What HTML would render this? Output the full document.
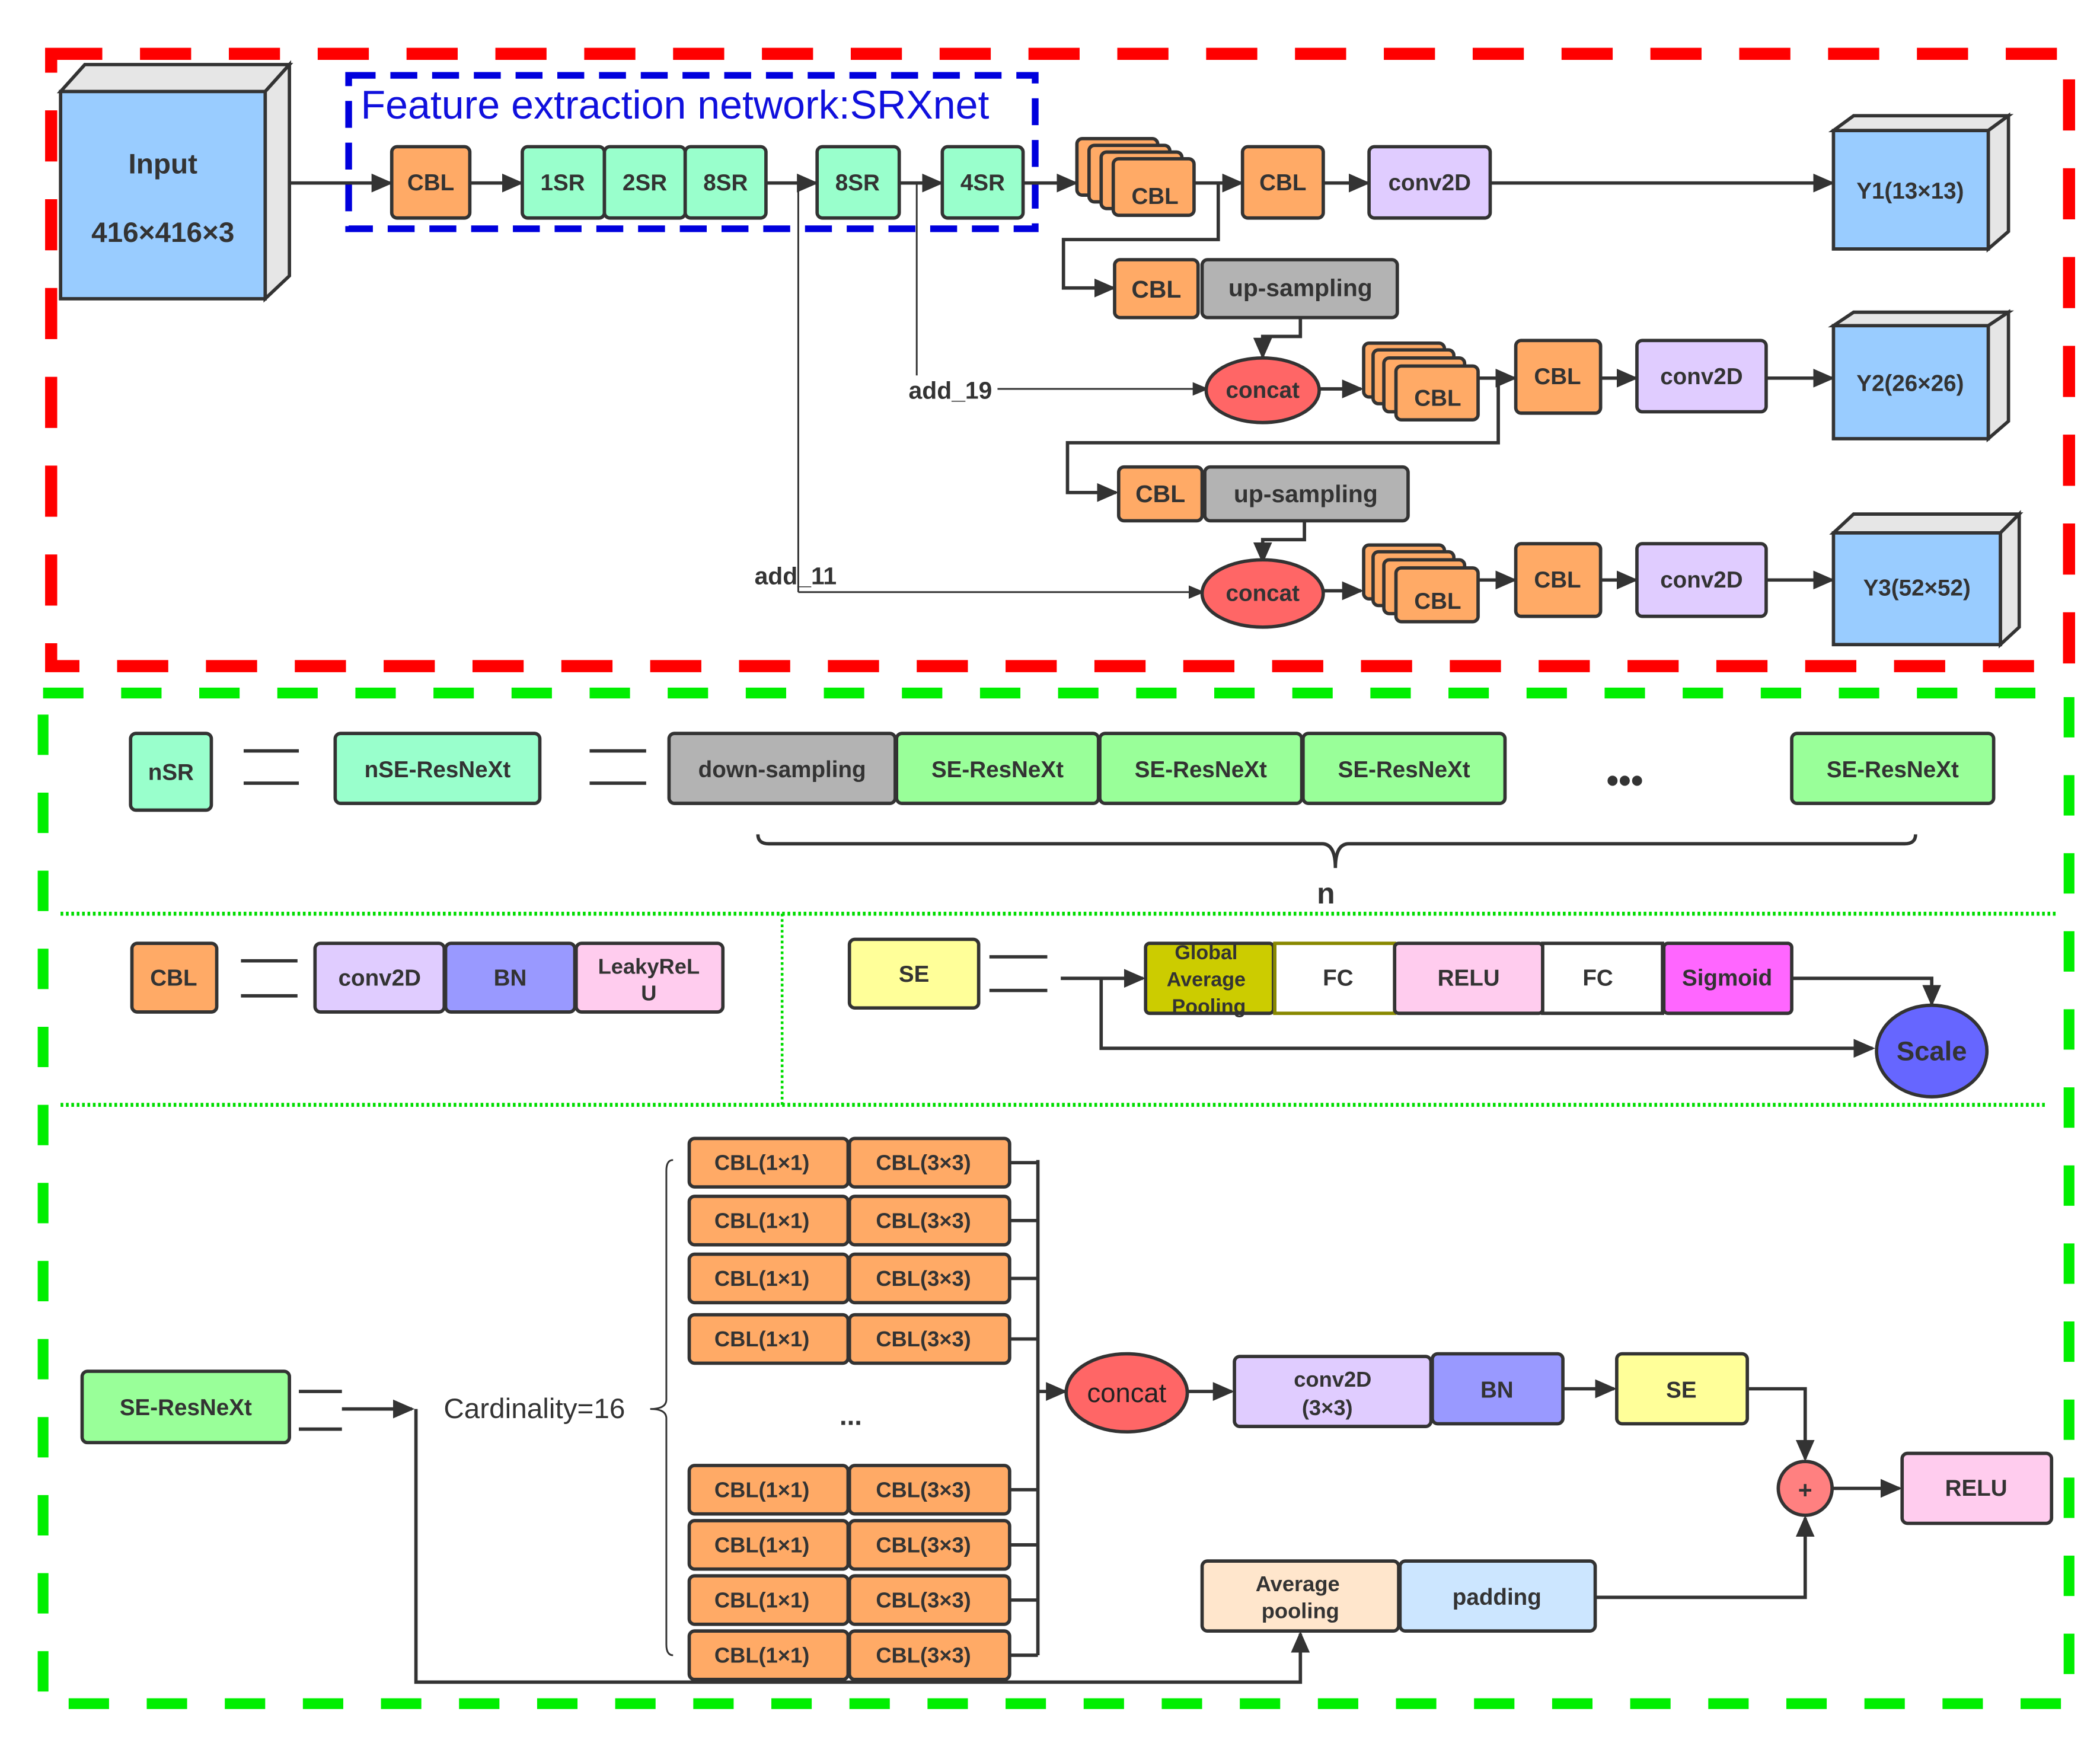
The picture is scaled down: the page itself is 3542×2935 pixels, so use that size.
<!DOCTYPE html>
<html><head><meta charset="utf-8"><style>
html,body{margin:0;padding:0;background:#fff}
svg{display:block}
text{font-family:"Liberation Sans",sans-serif;font-weight:bold;fill:#333;text-anchor:middle;dominant-baseline:central}
.b{stroke:#333;stroke-width:2.5}
.l{stroke:#333;stroke-width:2.5;fill:none}
.t{stroke:#333;stroke-width:1.3;fill:none}
</style></head><body>
<svg width="3542" height="2935" viewBox="0 0 1560 1293" preserveAspectRatio="none" xmlns="http://www.w3.org/2000/svg">
<defs>
<marker id="a" markerWidth="10" markerHeight="10" refX="9" refY="5" orient="auto" markerUnits="userSpaceOnUse"><path d="M0,0 L12,5 L0,10 z" fill="#333"/></marker>
<marker id="s" markerWidth="16" markerHeight="14" refX="14" refY="7" orient="auto" markerUnits="userSpaceOnUse"><path d="M0,0 L16,7 L0,14 z" fill="#333"/></marker>
</defs>
<!-- frames -->
<rect x="38" y="40" width="1499" height="455" fill="none" stroke="#ff0000" stroke-width="9" stroke-dasharray="38,28"/>
<rect x="32" y="515" width="1505" height="751" fill="none" stroke="#00ee00" stroke-width="8" stroke-dasharray="30,28"/>
<line x1="45" y1="679" x2="1528" y2="679" stroke="#00dd00" stroke-width="3" stroke-dasharray="2,2"/>
<line x1="45" y1="821" x2="1520" y2="821" stroke="#00dd00" stroke-width="3" stroke-dasharray="2,2"/>
<line x1="581" y1="679" x2="581" y2="821" stroke="#00dd00" stroke-width="2" stroke-dasharray="2,2"/>

<!-- Input cube -->
<polygon points="45,68 63,48 215,48 197,68" fill="#e6e6e6" class="b"/>
<polygon points="197,68 215,48 215,205 197,222" fill="#e6e6e6" class="b"/>
<rect x="45" y="68" width="152" height="154" fill="#99ccff" class="b"/>
<text x="121" y="122" font-size="21">Input</text>
<text x="121" y="173" font-size="21">416×416×3</text>

<!-- blue box -->
<rect x="259" y="56" width="510" height="114" fill="none" stroke="#0000dd" stroke-width="5" stroke-dasharray="20,11"/>
<text x="268" y="78" font-size="30" style="text-anchor:start;fill:#1010dd;font-weight:normal">Feature extraction network:SRXnet</text>

<!-- main row -->
<line x1="215" y1="136" x2="290" y2="136" class="l" marker-end="url(#s)"/>
<rect x="291" y="109" width="58" height="53" rx="4" fill="#ffaa66" class="b"/><text x="320" y="136" font-size="17">CBL</text>
<line x1="349" y1="136" x2="387" y2="136" class="l" marker-end="url(#s)"/>
<rect x="388" y="109" width="61" height="53" rx="4" fill="#99ffcc" class="b"/><text x="418" y="136" font-size="17">1SR</text>
<rect x="449" y="109" width="60" height="53" rx="4" fill="#99ffcc" class="b"/><text x="479" y="136" font-size="17">2SR</text>
<rect x="509" y="109" width="60" height="53" rx="4" fill="#99ffcc" class="b"/><text x="539" y="136" font-size="17">8SR</text>
<line x1="569" y1="136" x2="606" y2="136" class="l" marker-end="url(#s)"/>
<rect x="607" y="109" width="61" height="53" rx="4" fill="#99ffcc" class="b"/><text x="637" y="136" font-size="17">8SR</text>
<line x1="668" y1="136" x2="699" y2="136" class="l" marker-end="url(#s)"/>
<rect x="700" y="109" width="60" height="53" rx="4" fill="#99ffcc" class="b"/><text x="730" y="136" font-size="17">4SR</text>
<line x1="760" y1="136" x2="799" y2="136" class="l" marker-end="url(#s)"/>
<!-- stacked CBL 1 -->
<rect x="800" y="103" width="60" height="42" rx="4" fill="#ffaa66" class="b"/>
<rect x="809" y="108" width="60" height="42" rx="4" fill="#ffaa66" class="b"/>
<rect x="818" y="113" width="60" height="42" rx="4" fill="#ffaa66" class="b"/>
<rect x="827" y="118" width="60" height="42" rx="4" fill="#ffaa66" class="b"/><text x="858" y="146" font-size="17">CBL</text>
<line x1="887" y1="136" x2="922" y2="136" class="l" marker-end="url(#s)"/>
<rect x="923" y="109" width="60" height="53" rx="4" fill="#ffaa66" class="b"/><text x="953" y="136" font-size="17">CBL</text>
<line x1="983" y1="136" x2="1016" y2="136" class="l" marker-end="url(#s)"/>
<rect x="1017" y="109" width="90" height="53" rx="4" fill="#e0ccff" class="b"/><text x="1062" y="136" font-size="17">conv2D</text>
<line x1="1107" y1="136" x2="1361" y2="136" class="l" marker-end="url(#s)"/>
<polygon points="1362,97 1377,86 1492,86 1477,97" fill="#e6e6e6" class="b"/>
<polygon points="1477,97 1492,86 1492,172 1477,185" fill="#e6e6e6" class="b"/>
<rect x="1362" y="97" width="115" height="88" fill="#99ccff" class="b"/><text x="1419" y="142" font-size="17">Y1(13×13)</text>

<!-- branch 1 -->
<polyline points="905,136 905,178 790,178 790,214 827,214" class="l" marker-end="url(#s)"/>
<rect x="828" y="193" width="62" height="43" rx="4" fill="#ffaa66" class="b"/><text x="859" y="215" font-size="18">CBL</text>
<rect x="893" y="193" width="145" height="43" rx="4" fill="#b3b3b3" class="b"/><text x="966" y="214" font-size="18">up-sampling</text>
<polyline points="966,236 966,250 938,250 938,265" class="l" marker-end="url(#s)"/>
<line x1="681" y1="136" x2="681" y2="279" class="t"/>
<text x="706" y="290" font-size="18">add_19</text>
<line x1="741" y1="289" x2="895" y2="289" class="t" marker-end="url(#a)"/>
<ellipse cx="938" cy="290" rx="42" ry="24" fill="#ff6666" class="b"/><text x="938" y="290" font-size="17">concat</text>
<line x1="980" y1="289" x2="1011" y2="289" class="l" marker-end="url(#s)"/>
<rect x="1013" y="255" width="60" height="40" rx="4" fill="#ffaa66" class="b"/>
<rect x="1020" y="260" width="60" height="40" rx="4" fill="#ffaa66" class="b"/>
<rect x="1028" y="266" width="60" height="40" rx="4" fill="#ffaa66" class="b"/>
<rect x="1037" y="272" width="61" height="40" rx="4" fill="#ffaa66" class="b"/><text x="1068" y="296" font-size="17">CBL</text>
<line x1="1098" y1="281" x2="1125" y2="281" class="l" marker-end="url(#s)"/>
<rect x="1126" y="253" width="63" height="54" rx="4" fill="#ffaa66" class="b"/><text x="1157" y="280" font-size="17">CBL</text>
<line x1="1189" y1="281" x2="1215" y2="281" class="l" marker-end="url(#s)"/>
<rect x="1216" y="253" width="96" height="53" rx="4" fill="#e0ccff" class="b"/><text x="1264" y="280" font-size="17">conv2D</text>
<line x1="1312" y1="281" x2="1361" y2="281" class="l" marker-end="url(#s)"/>
<polygon points="1362,242 1377,232 1492,232 1477,242" fill="#e6e6e6" class="b"/>
<polygon points="1477,242 1492,232 1492,313 1477,326" fill="#e6e6e6" class="b"/>
<rect x="1362" y="242" width="115" height="84" fill="#99ccff" class="b"/><text x="1419" y="285" font-size="17">Y2(26×26)</text>

<!-- branch 2 -->
<polyline points="1113,281 1113,329 793,329 793,366 829,366" class="l" marker-end="url(#s)"/>
<rect x="831" y="347" width="62" height="40" rx="4" fill="#ffaa66" class="b"/><text x="862" y="367" font-size="18">CBL</text>
<rect x="895" y="347" width="151" height="40" rx="4" fill="#b3b3b3" class="b"/><text x="970" y="367" font-size="18">up-sampling</text>
<polyline points="969,387 969,401 938,401 938,417" class="l" marker-end="url(#s)"/>
<line x1="593" y1="136" x2="593" y2="440" class="t"/>
<text x="591" y="428" font-size="18">add_11</text>
<line x1="593" y1="440" x2="892" y2="440" class="t" marker-end="url(#a)"/>
<ellipse cx="938" cy="441" rx="45" ry="25" fill="#ff6666" class="b"/><text x="938" y="441" font-size="17">concat</text>
<line x1="983" y1="439" x2="1011" y2="439" class="l" marker-end="url(#s)"/>
<rect x="1013" y="405" width="60" height="40" rx="4" fill="#ffaa66" class="b"/>
<rect x="1020" y="410" width="60" height="40" rx="4" fill="#ffaa66" class="b"/>
<rect x="1028" y="416" width="60" height="40" rx="4" fill="#ffaa66" class="b"/>
<rect x="1037" y="422" width="61" height="40" rx="4" fill="#ffaa66" class="b"/><text x="1068" y="447" font-size="17">CBL</text>
<line x1="1098" y1="431" x2="1125" y2="431" class="l" marker-end="url(#s)"/>
<rect x="1126" y="404" width="63" height="54" rx="4" fill="#ffaa66" class="b"/><text x="1157" y="431" font-size="17">CBL</text>
<line x1="1189" y1="431" x2="1215" y2="431" class="l" marker-end="url(#s)"/>
<rect x="1216" y="404" width="96" height="54" rx="4" fill="#e0ccff" class="b"/><text x="1264" y="431" font-size="17">conv2D</text>
<line x1="1312" y1="431" x2="1361" y2="431" class="l" marker-end="url(#s)"/>
<polygon points="1362,396 1377,382 1500,382 1486,396" fill="#e6e6e6" class="b"/>
<polygon points="1486,396 1500,382 1500,466 1486,479" fill="#e6e6e6" class="b"/>
<rect x="1362" y="396" width="124" height="83" fill="#99ccff" class="b"/><text x="1424" y="437" font-size="17">Y3(52×52)</text>

<!-- nSR row -->
<rect x="97" y="545" width="60" height="57" rx="4" fill="#99ffcc" class="b"/><text x="127" y="574" font-size="17">nSR</text>
<line x1="181" y1="558" x2="222" y2="558" class="l"/><line x1="181" y1="582" x2="222" y2="582" class="l"/>
<rect x="249" y="545" width="152" height="52" rx="4" fill="#99ffcc" class="b"/><text x="325" y="572" font-size="17">nSE-ResNeXt</text>
<line x1="438" y1="558" x2="480" y2="558" class="l"/><line x1="438" y1="582" x2="480" y2="582" class="l"/>
<rect x="497" y="545" width="168" height="52" rx="4" fill="#b3b3b3" class="b"/><text x="581" y="572" font-size="17">down-sampling</text>
<rect x="666" y="545" width="150" height="52" rx="4" fill="#99ff99" class="b"/><text x="741" y="572" font-size="17">SE-ResNeXt</text>
<rect x="817" y="545" width="150" height="52" rx="4" fill="#99ff99" class="b"/><text x="892" y="572" font-size="17">SE-ResNeXt</text>
<rect x="968" y="545" width="150" height="52" rx="4" fill="#99ff99" class="b"/><text x="1043" y="572" font-size="17">SE-ResNeXt</text>
<text x="1207" y="580" font-size="26">•••</text>
<rect x="1331" y="545" width="150" height="52" rx="4" fill="#99ff99" class="b"/><text x="1406" y="572" font-size="17">SE-ResNeXt</text>
<path d="M563,620 Q563,627 571,627 L982,627 Q992,627 992,645 Q992,627 1002,627 L1415,627 Q1423,627 1423,620" class="l"/>
<text x="985" y="664" font-size="22">n</text>

<!-- CBL def -->
<rect x="98" y="701" width="63" height="51" rx="4" fill="#ffaa66" class="b"/><text x="129" y="727" font-size="17">CBL</text>
<line x1="179" y1="714" x2="221" y2="714" class="l"/><line x1="179" y1="740" x2="221" y2="740" class="l"/>
<rect x="234" y="701" width="96" height="51" rx="4" fill="#e0ccff" class="b"/><text x="282" y="727" font-size="17">conv2D</text>
<rect x="331" y="701" width="96" height="51" rx="4" fill="#9999ff" class="b"/><text x="379" y="727" font-size="17">BN</text>
<rect x="428" y="701" width="109" height="51" rx="4" fill="#ffccee" class="b"/><text x="482" y="718" font-size="16">LeakyReL</text><text x="482" y="738" font-size="16">U</text>

<!-- SE def -->
<rect x="631" y="698" width="96" height="51" rx="4" fill="#ffff99" class="b"/><text x="679" y="724" font-size="17">SE</text>
<line x1="735" y1="711" x2="778" y2="711" class="l"/><line x1="735" y1="736" x2="778" y2="736" class="l"/>
<line x1="788" y1="727" x2="849" y2="727" class="l" marker-end="url(#s)"/>
<polyline points="818,727 818,779 1391,779" class="l" marker-end="url(#s)"/>
<rect x="851" y="701" width="95" height="52" rx="3" fill="#cccc00" class="b"/>
<text x="896" y="708" font-size="15">Global</text><text x="896" y="728" font-size="15">Average</text><text x="898" y="748" font-size="15">Pooling</text>
<rect x="947" y="701" width="89" height="52" fill="#fff" stroke="#888800" stroke-width="2.5"/><text x="994" y="727" font-size="17">FC</text>
<rect x="1036" y="701" width="110" height="52" rx="3" fill="#ffccee" class="b"/><text x="1091" y="727" font-size="17">RELU</text>
<rect x="1146" y="701" width="89" height="52" fill="#fff" class="b"/><text x="1187" y="727" font-size="17">FC</text>
<rect x="1236" y="701" width="95" height="52" rx="3" fill="#ff66ff" class="b"/><text x="1283" y="727" font-size="17">Sigmoid</text>
<polyline points="1331,727 1435,727 1435,746" class="l" marker-end="url(#s)"/>
<ellipse cx="1435" cy="781" rx="41" ry="34" fill="#6666ff" class="b"/><text x="1435" y="781" font-size="20">Scale</text>

<!-- SE-ResNeXt def -->
<rect x="61" y="1019" width="154" height="53" rx="4" fill="#99ff99" class="b"/><text x="138" y="1046" font-size="17">SE-ResNeXt</text>
<line x1="222" y1="1034" x2="254" y2="1034" class="l"/><line x1="222" y1="1062" x2="254" y2="1062" class="l"/>
<line x1="254" y1="1047" x2="306" y2="1047" class="l" marker-end="url(#s)"/>
<text x="397" y="1047" font-size="21" style="font-weight:normal">Cardinality=16</text>
<path d="M500,862 Q495,862 495,870 L495,1040 Q495,1047 483,1047 Q495,1047 495,1054 L495,1222 Q495,1230 500,1230" class="t"/>
<g font-size="16">
<rect x="512" y="846" width="118" height="36" rx="4" fill="#ffaa66" class="b"/><rect x="631" y="846" width="119" height="36" rx="4" fill="#ffaa66" class="b"/>
<rect x="512" y="889" width="118" height="36" rx="4" fill="#ffaa66" class="b"/><rect x="631" y="889" width="119" height="36" rx="4" fill="#ffaa66" class="b"/>
<rect x="512" y="932" width="118" height="36" rx="4" fill="#ffaa66" class="b"/><rect x="631" y="932" width="119" height="36" rx="4" fill="#ffaa66" class="b"/>
<rect x="512" y="977" width="118" height="36" rx="4" fill="#ffaa66" class="b"/><rect x="631" y="977" width="119" height="36" rx="4" fill="#ffaa66" class="b"/>
<rect x="512" y="1089" width="118" height="36" rx="4" fill="#ffaa66" class="b"/><rect x="631" y="1089" width="119" height="36" rx="4" fill="#ffaa66" class="b"/>
<rect x="512" y="1130" width="118" height="36" rx="4" fill="#ffaa66" class="b"/><rect x="631" y="1130" width="119" height="36" rx="4" fill="#ffaa66" class="b"/>
<rect x="512" y="1171" width="118" height="36" rx="4" fill="#ffaa66" class="b"/><rect x="631" y="1171" width="119" height="36" rx="4" fill="#ffaa66" class="b"/>
<rect x="512" y="1212" width="118" height="36" rx="4" fill="#ffaa66" class="b"/><rect x="631" y="1212" width="119" height="36" rx="4" fill="#ffaa66" class="b"/>
</g>
<g font-size="16">
<text x="566" y="864" font-size="16">CBL(1×1)</text><text x="686" y="864" font-size="16">CBL(3×3)</text>
<text x="566" y="907" font-size="16">CBL(1×1)</text><text x="686" y="907" font-size="16">CBL(3×3)</text>
<text x="566" y="950" font-size="16">CBL(1×1)</text><text x="686" y="950" font-size="16">CBL(3×3)</text>
<text x="566" y="995" font-size="16">CBL(1×1)</text><text x="686" y="995" font-size="16">CBL(3×3)</text>
<text x="566" y="1107" font-size="16">CBL(1×1)</text><text x="686" y="1107" font-size="16">CBL(3×3)</text>
<text x="566" y="1148" font-size="16">CBL(1×1)</text><text x="686" y="1148" font-size="16">CBL(3×3)</text>
<text x="566" y="1189" font-size="16">CBL(1×1)</text><text x="686" y="1189" font-size="16">CBL(3×3)</text>
<text x="566" y="1230" font-size="16">CBL(1×1)</text><text x="686" y="1230" font-size="16">CBL(3×3)</text>
</g>
<text x="632" y="1052" font-size="20">...</text>
<path d="M750,864 H771 M750,907 H771 M750,950 H771 M750,995 H771 M750,1107 H771 M750,1148 H771 M750,1189 H771 M750,1230 H771 M771,862 V1230" class="l"/>
<line x1="771" y1="1034" x2="791" y2="1034" class="l" marker-end="url(#s)"/>
<ellipse cx="837" cy="1035" rx="45" ry="29" fill="#ff6666" class="b"/><text x="837" y="1035" font-size="20" style="font-weight:normal;fill:#222">concat</text>
<line x1="882" y1="1034" x2="915" y2="1034" class="l" marker-end="url(#s)"/>
<rect x="917" y="1008" width="146" height="52" rx="4" fill="#e0ccff" class="b"/><text x="990" y="1025" font-size="16">conv2D</text><text x="986" y="1046" font-size="16">(3×3)</text>
<rect x="1064" y="1006" width="97" height="52" rx="4" fill="#9999ff" class="b"/><text x="1112" y="1033" font-size="17">BN</text>
<line x1="1161" y1="1032" x2="1199" y2="1032" class="l" marker-end="url(#s)"/>
<rect x="1201" y="1006" width="97" height="52" rx="4" fill="#ffff99" class="b"/><text x="1249" y="1033" font-size="17">SE</text>
<polyline points="1298,1032 1341,1032 1341,1084" class="l" marker-end="url(#s)"/>
<circle cx="1341" cy="1106" r="20" fill="#ff8080" class="b"/><text x="1341" y="1107" font-size="18">+</text>
<line x1="1361" y1="1106" x2="1411" y2="1106" class="l" marker-end="url(#s)"/>
<rect x="1413" y="1080" width="111" height="52" rx="4" fill="#ffccee" class="b"/><text x="1468" y="1106" font-size="17">RELU</text>
<rect x="893" y="1160" width="146" height="52" rx="4" fill="#ffe6cc" class="b"/><text x="964" y="1177" font-size="16">Average</text><text x="966" y="1197" font-size="16">pooling</text>
<rect x="1040" y="1160" width="145" height="52" rx="4" fill="#cce6ff" class="b"/><text x="1112" y="1187" font-size="17">padding</text>
<polyline points="1185,1187 1341,1187 1341,1128" class="l" marker-end="url(#s)"/>
<polyline points="309,1047 309,1250 966,1250 966,1214" class="l" marker-end="url(#s)"/>
</svg>
</body></html>
